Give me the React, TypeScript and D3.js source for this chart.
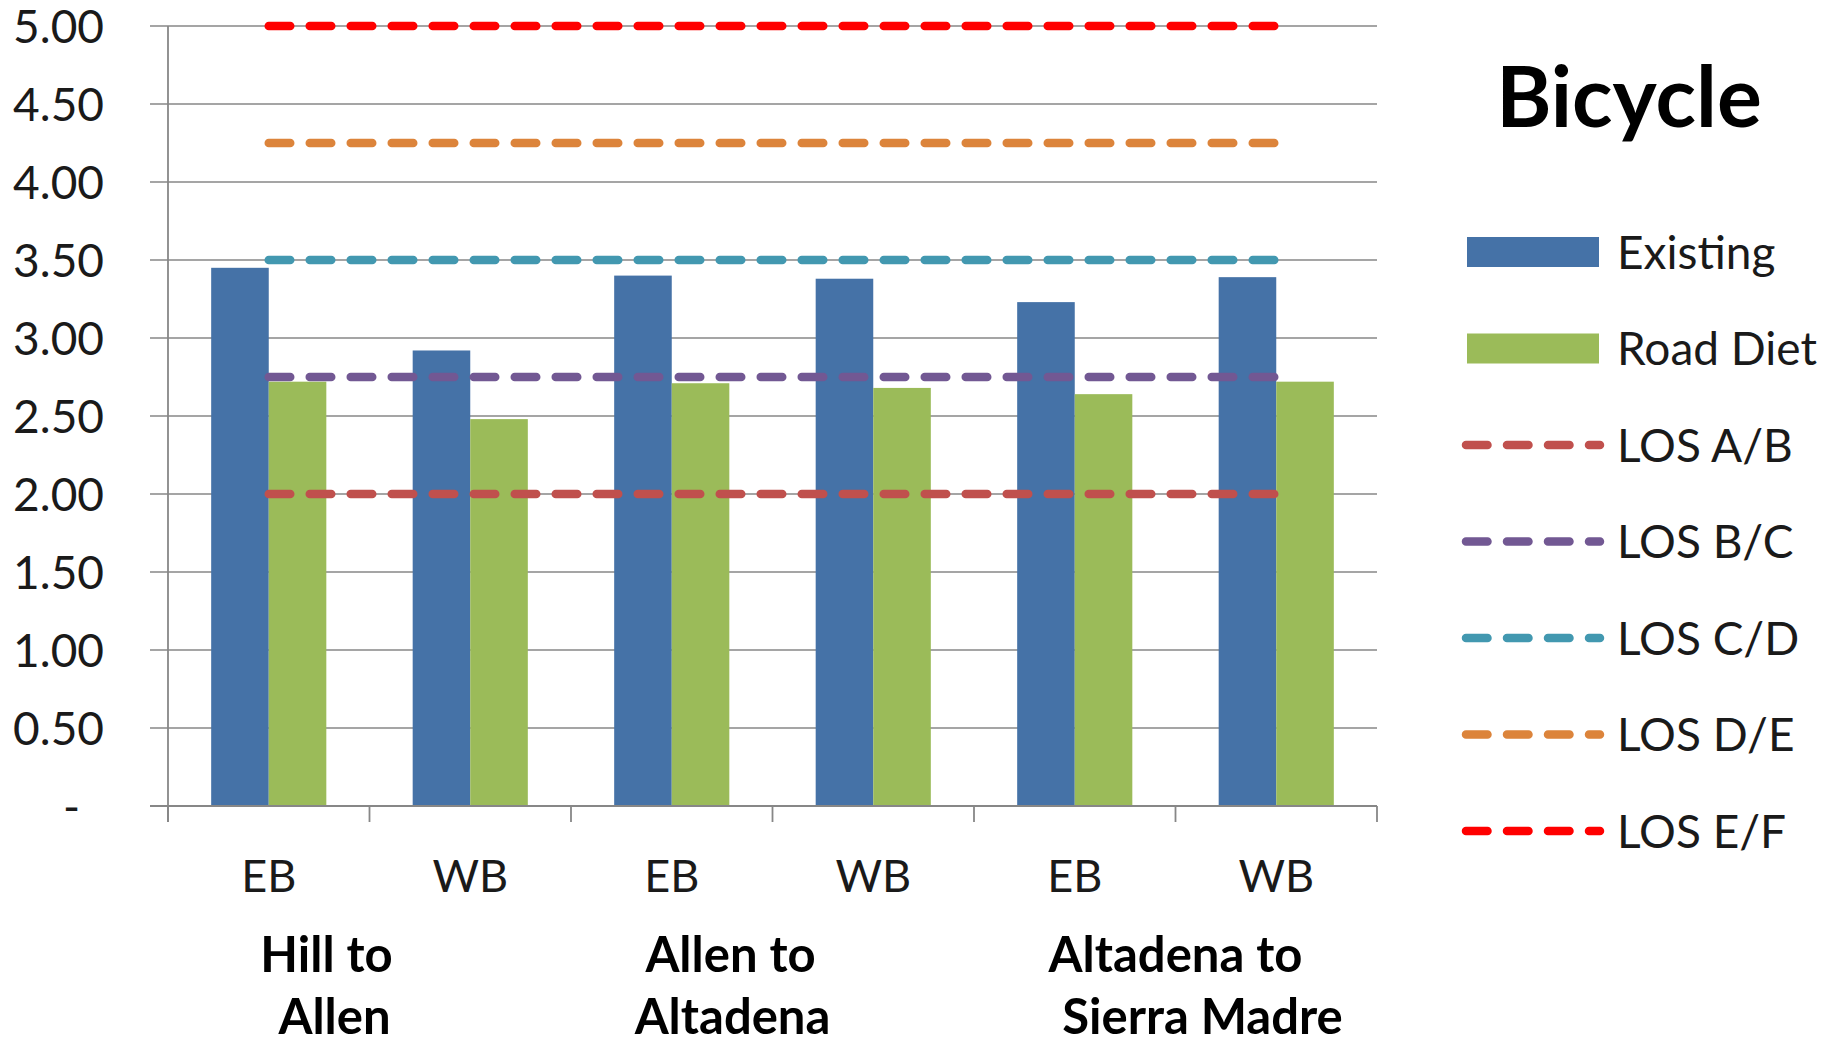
import React from "react";
import * as d3 from "d3";

// Segment directions (bottom category level)
const directions = ["EB", "WB", "EB", "WB", "EB", "WB"];
// Corridor segments (top category level), each spanning two directions
const segments = [
  ["Hill to", "Allen"],
  ["Allen to", "Altadena"],
  ["Altadena to", "Sierra Madre"],
];
const existing = [3.45, 2.92, 3.4, 3.38, 3.23, 3.39];
const roadDiet = [2.72, 2.48, 2.71, 2.68, 2.64, 2.72];

const losNames = ["LOS A/B", "LOS B/C", "LOS C/D", "LOS D/E", "LOS E/F"];
const losValues = [2.0, 2.75, 3.5, 4.25, 5.0];
const losColors = ["#C0504D", "#725893", "#4298B0", "#DC843B", "#FF0000"];

const yTicks = [0, 0.5, 1, 1.5, 2, 2.5, 3, 3.5, 4, 4.5, 5];

const W = 1841;
const H = 1038;
const FONT = "Lato, 'Open Sans', sans-serif";
const GRID = "#878787";
const BLUE = "#4572A7";
const GREEN = "#9BBB59";

// dashed threshold style: ~30px visible dashes, ~11px gaps, rounded ends
const DASH_W = 8.5;
const DASH = "21.5 19.5";

// per-line horizontal nudges of the segment labels, relative to the segment centre
const segLabelShift = [
  [-43, -35],
  [-42, -40],
  [0, 27],
];

export default function App() {
  const left = 168;
  const right = 1377;
  const top = 26;
  const bottom = 806;

  const idx = directions.map((_, i) => i);
  const x = d3.scaleBand<number>().domain(idx).range([left, right]).paddingInner(0).paddingOuter(0);
  const step = x.step();
  // 150% gap width: two bars take 2/(2+1.5) of the category
  const groupW = step * (2 / 3.5);
  const inner = d3
    .scaleBand<string>()
    .domain(["existing", "roadDiet"])
    .range([0, groupW])
    .padding(0);
  const y = d3.scaleLinear().domain([0, 5]).range([bottom, top]);

  const center = (i: number) => (x(i) as number) + step / 2;
  const groupStart = (i: number) => center(i) - groupW / 2;

  const tickFont = 46;
  const capH = 33;

  const legendRowY = (k: number) => 252 + k * 96.5;
  const legendSwatchX0 = 1467;
  const legendSwatchX1 = 1599;
  const legendTextX = 1617;

  const legendItems: { name: string; type: "bar" | "line"; color: string }[] = [
    { name: "Existing", type: "bar", color: BLUE },
    { name: "Road Diet", type: "bar", color: GREEN },
    ...losNames.map((n, k) => ({ name: n, type: "line" as const, color: losColors[k] })),
  ];

  return (
    <svg
      width={W}
      height={H}
      style={{ position: "absolute", left: 0, top: 0, background: "#fff" }}
      fontFamily={FONT}
    >
      <rect x={0} y={0} width={W} height={H} fill="#fff" />

      {/* horizontal gridlines with outward tick stubs */}
      {yTicks.map((t) => (
        <line
          key={"g" + t}
          x1={150}
          x2={right}
          y1={y(t)}
          y2={y(t)}
          stroke={GRID}
          strokeWidth={1.6}
        />
      ))}

      {/* y tick labels */}
      {yTicks.map((t) =>
        t === 0 ? (
          <text key={"yl" + t} x={80} y={y(t) + capH / 2} textAnchor="end" fontSize={tickFont} fill="#1a1a1a">
            -
          </text>
        ) : (
          <text key={"yl" + t} x={104} y={y(t) + capH / 2} textAnchor="end" fontSize={tickFont} fill="#1a1a1a">
            {d3.format(".2f")(t)}
          </text>
        )
      )}

      {/* bars */}
      {idx.map((i) => (
        <g key={"b" + i}>
          <rect
            x={groupStart(i) + (inner("existing") as number)}
            y={y(existing[i])}
            width={inner.bandwidth()}
            height={bottom - y(existing[i])}
            fill={BLUE}
          />
          <rect
            x={groupStart(i) + (inner("roadDiet") as number)}
            y={y(roadDiet[i])}
            width={inner.bandwidth()}
            height={bottom - y(roadDiet[i])}
            fill={GREEN}
          />
        </g>
      ))}

      {/* axes */}
      <line x1={left} x2={left} y1={top} y2={bottom + 16} stroke={GRID} strokeWidth={1.8} />
      <line x1={150} x2={right} y1={bottom} y2={bottom} stroke={GRID} strokeWidth={1.8} />
      {d3.range(directions.length + 1).map((k) => {
        const tx = left + k * step;
        return <line key={"xt" + k} x1={tx} x2={tx} y1={bottom} y2={bottom + 16} stroke={GRID} strokeWidth={1.8} />;
      })}

      {/* LOS threshold lines */}
      {losValues.map((v, k) => (
        <path
          key={"los" + k}
          d={
            d3
              .line<number>()
              .x((i) => center(i))
              .y(() => y(v))(idx) as string
          }
          fill="none"
          stroke={losColors[k]}
          strokeWidth={DASH_W}
          strokeLinecap="round"
          strokeDasharray={DASH}
        />
      ))}

      {/* direction labels */}
      {directions.map((d, i) => (
        <text key={"d" + i} x={center(i)} y={892} textAnchor="middle" fontSize={45} fill="#1a1a1a">
          {d}
        </text>
      ))}

      {/* segment labels */}
      {segments.map((lines, s) => {
        const cx = left + (2 * s + 1) * step;
        return lines.map((ln, j) => (
          <text
            key={"s" + s + j}
            x={cx + segLabelShift[s][j]}
            y={972 + j * 62}
            textAnchor="middle"
            fontSize={49}
            fontWeight="bold"
            fill="#000"
          >
            {ln}
          </text>
        ));
      })}

      {/* title */}
      <text x={1629} y={127} textAnchor="middle" fontSize={84} fontWeight="bold" fill="#000">
        Bicycle
      </text>

      {/* legend */}
      {legendItems.map((it, k) => {
        const cy = legendRowY(k);
        return (
          <g key={"lg" + k}>
            {it.type === "bar" ? (
              <rect x={legendSwatchX0} y={cy - 15} width={legendSwatchX1 - legendSwatchX0} height={30} fill={it.color} />
            ) : (
              <line
                x1={1466}
                x2={1600}
                y1={cy}
                y2={cy}
                stroke={it.color}
                strokeWidth={DASH_W}
                strokeLinecap="round"
                strokeDasharray={DASH}
              />
            )}
            <text x={legendTextX} y={cy + capH / 2} fontSize={tickFont} fill="#1a1a1a">
              {it.name}
            </text>
          </g>
        );
      })}
    </svg>
  );
}
